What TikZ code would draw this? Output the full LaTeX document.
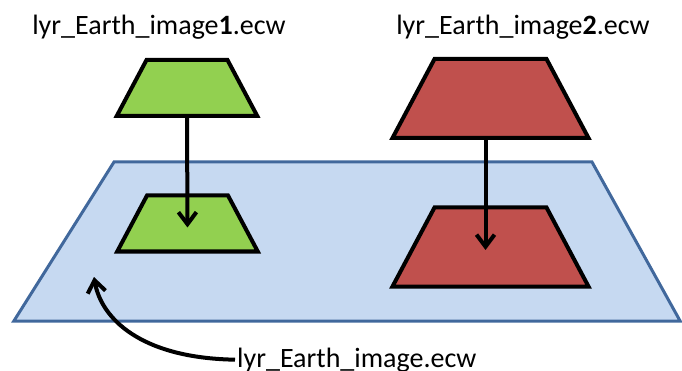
\documentclass[tikz,border=0pt]{standalone}
\usepackage{fontspec}
\setmainfont{Carlito}
\usetikzlibrary{arrows.meta, shapes.geometric}
\definecolor{planeblue}{HTML}{C6D9F1}
\definecolor{planeedge}{HTML}{41689C}
\definecolor{layergreen}{HTML}{92D050}
\definecolor{layerred}{HTML}{C0504D}

\begin{document}
\begin{tikzpicture}[
        x=1pt, y=-1pt,
        plane/.style={trapezium, draw=planeedge, fill=planeblue, line width=3pt, inner sep=0pt, text width=478pt, text height=159pt, text depth=0pt, trapezium left angle=57.8, trapezium right angle=61},
        layer/.style={trapezium, draw=black, line width=4pt, inner sep=0pt, text depth=0pt, trapezium angle=62},
        smalllayer/.style={layer, fill=layergreen, text width=81pt, text height=56pt},
        largelayer/.style={layer, fill=layerred, text width=112pt, text height=79pt},
        filelabel/.style={font=\fontsize{28}{34}\selectfont, inner sep=2pt},
        arrow/.style={line width=4pt, -{Straight Barb[length=12pt, width=18pt]}}
    ]
    \useasboundingbox (0,0) rectangle (682,371);

    % base image and the two layers on it
    \node[plane] (base) at (353,241.5) {};
    \node[smalllayer] (g2) at (187.5,223.5) {};
    \node[largelayer] (r2) at (490.5,247) {};

    % the two source images
    \node[smalllayer] (g1) at (187,88) {};
    \node[largelayer] (r1) at (490.5,98.5) {};

    \node[filelabel, anchor=base] (lbl1) at (159,35) {lyr\_Earth\_image\textbf{1}.ecw};
    \node[filelabel, anchor=base] (lbl2) at (523,35) {lyr\_Earth\_image\textbf{2}.ecw};
    \node[filelabel, anchor=base west] (lblbase) at (235,367) {lyr\_Earth\_image.ecw};
    \coordinate (basetip) at (94,277);

    \draw[arrow] (g1.south) -- ([yshift=-4pt]g2.center);
    \draw[arrow] ([xshift=-5pt]r1.south) -- ([xshift=-5pt, yshift=-3pt]r2.center);
    \draw[arrow] (lblbase.west) .. controls (140,358) and (101,318) .. (basetip);
\end{tikzpicture}
\end{document}
